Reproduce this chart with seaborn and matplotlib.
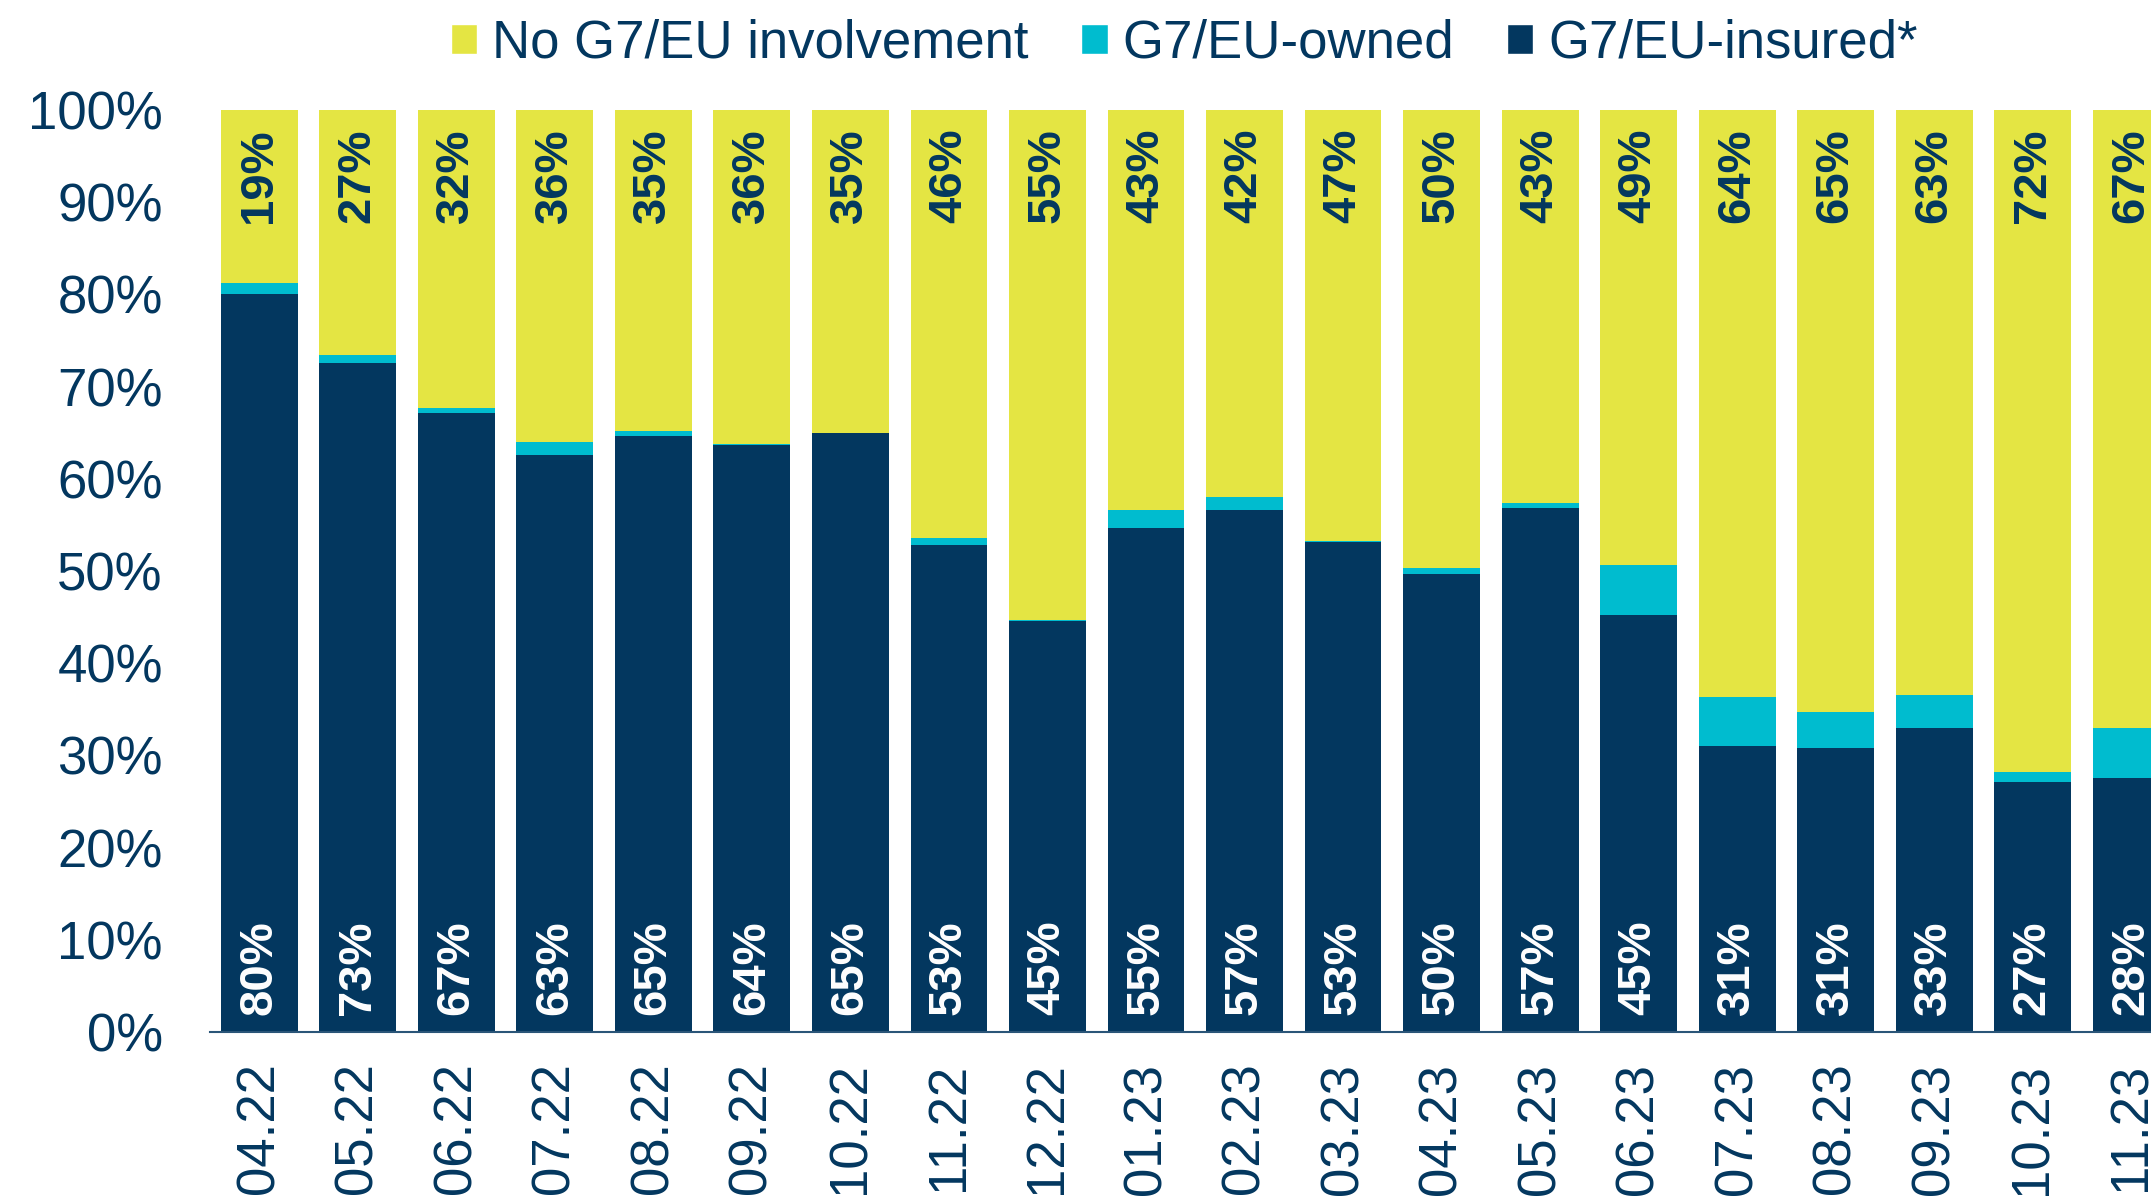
import numpy as np
import pandas as pd
import seaborn as sns
import matplotlib.pyplot as plt
from matplotlib.patches import Patch

# values (% of shipments)
months = ['04.22', '05.22', '06.22', '07.22', '08.22', '09.22', '10.22', '11.22', '12.22', '01.23',
          '02.23', '03.23', '04.23', '05.23', '06.23', '07.23', '08.23', '09.23', '10.23', '11.23']
insured = [80.0, 72.6, 67.1, 62.6, 64.6, 63.7, 65.0, 52.8, 44.6, 54.7,
           56.6, 53.1, 49.7, 56.8, 45.2, 31.0, 30.8, 33.0, 27.1, 27.6]
owned = [1.2, 0.8, 0.6, 1.4, 0.6, 0.1, 0.0, 0.8, 0.1, 1.9,
         1.4, 0.1, 0.6, 0.6, 5.5, 5.3, 3.9, 3.6, 1.1, 5.4]
no_involvement = [18.8, 26.6, 32.3, 36.0, 34.8, 36.2, 35.0, 46.4, 55.3, 43.4,
                  42.0, 46.8, 49.7, 42.6, 49.3, 63.7, 65.3, 63.4, 71.8, 67.0]

series_names = ['No G7/EU involvement', 'G7/EU-owned', 'G7/EU-insured*']

NAVY = '#03375f'
CYAN = '#00bccf'
YELLOW = '#e4e543'

df = pd.DataFrame({'month': months, 'insured': insured, 'owned': owned, 'none': no_involvement})
df['cum_owned'] = df['insured'] + df['owned']
df['cum_total'] = df['cum_owned'] + df['none']

sns.set_theme(style='white')
plt.rcParams['font.family'] = ['Liberation Sans', 'DejaVu Sans']

fig = plt.figure(figsize=(21.51, 12.02), dpi=100)
ax = fig.add_axes([210 / 2151, 1 - 1032 / 1202, 1 - 210 / 2151, 922 / 1202])

# stacked bars drawn as layered cumulative totals
for col, color in [('cum_total', YELLOW), ('cum_owned', CYAN), ('insured', NAVY)]:
    sns.barplot(data=df, x='month', y=col, color=color, saturation=1,
                width=0.78, linewidth=0, ax=ax)

for i, row in df.iterrows():
    ax.text(i, 1.8, f"{round(row['insured'])}%", rotation=90, ha='center', va='bottom',
            color='white', fontsize=34, fontweight='bold')
    ax.text(i, 98, f"{round(row['none'])}%", rotation=90, ha='center', va='top',
            color=NAVY, fontsize=34, fontweight='bold')

ax.set_xlim(-0.50, 19.2)
ax.set_ylim(0, 100)
ax.set_yticks(range(0, 101, 10))
ax.set_yticklabels([f'{v}%' for v in range(0, 101, 10)])
ax.set_xlabel('')
ax.set_ylabel('')
ax.tick_params(axis='y', length=0, pad=34, labelsize=38, labelcolor=NAVY)
ax.tick_params(axis='x', length=0, pad=22, labelsize=38, labelcolor=NAVY, rotation=90)

sns.despine(ax=ax, left=True, right=True, top=True)
ax.spines['bottom'].set_color('#2a5578')
ax.spines['bottom'].set_linewidth(1.5)

handles = [Patch(facecolor=YELLOW), Patch(facecolor=CYAN), Patch(facecolor=NAVY)]
fig.legend(handles, series_names, loc='center', bbox_to_anchor=(0.5505, 1 - 44 / 1202),
           ncol=3, frameon=False, fontsize=38, labelcolor=NAVY,
           handlelength=0.5, handleheight=0.5, handletextpad=0.28, columnspacing=1.0)

fig.savefig('out.png', dpi=100)
